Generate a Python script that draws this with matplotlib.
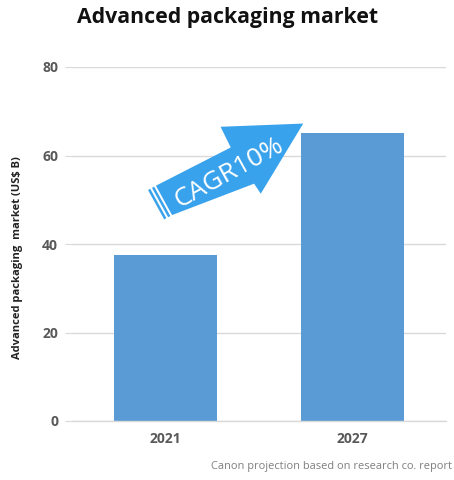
import numpy as np
import matplotlib
matplotlib.use("Agg")
import matplotlib.pyplot as plt
from matplotlib.patches import Polygon

years = ["2021", "2027"]
market = [37.5, 65.0]
yticks = [0, 20, 40, 60, 80]
title = "Advanced packaging market"
ylabel = "Advanced packaging  market (US$ B)"
cagr_label = "CAGR10%"
source = "Canon projection based on research co. report"

FONT = ["Open Sans", "DejaVu Sans"]
plt.rcParams["font.family"] = FONT

fig = plt.figure(figsize=(4.54, 4.80), dpi=100)
W, H = 454, 480
ax = fig.add_axes([72 / W, 1 - 421 / H, (446 - 72) / W, (421 - 67) / H])

x = np.arange(len(years))
ax.bar(x, market, width=0.556, color="#5b9bd5", zorder=2)
ax.set_xlim(-0.5, 1.5)
ax.set_ylim(0, 80)
ax.set_yticks(yticks)
ax.set_yticklabels([str(v) for v in yticks])
ax.set_xticks(x)
ax.set_xticklabels(years)
ax.grid(axis="y", color="#d9d9d9", linewidth=1.0, zorder=0)
for s in ["top", "right", "left"]:
    ax.spines[s].set_visible(False)
ax.spines["bottom"].set_color("#d9d9d9")
ax.spines["bottom"].set_linewidth(1.0)
ax.tick_params(axis="y", length=5, color="#d9d9d9", pad=5, labelsize=10, labelcolor="#595959")
ax.tick_params(axis="x", length=0, pad=8, labelsize=10, labelcolor="#595959")
for lab in ax.get_xticklabels() + ax.get_yticklabels():
    lab.set_fontweight("bold")

fig.text(18 / W, 1 - 258 / H, ylabel, rotation=90, ha="center", va="center",
         fontsize=8, fontweight="bold", color="#222222")
fig.text(228 / W, 1 - 18 / H, title, ha="center", va="center",
         fontsize=15.3, fontweight="bold", color="#111111")
fig.text(452 / W, 1 - 466 / H, source, ha="right", va="center",
         fontsize=7.9, color="#7f7f7f")

# CAGR arrow overlay in pixel coordinates
ov = fig.add_axes([0, 0, 1, 1])
ov.set_xlim(0, W)
ov.set_ylim(H, 0)
ov.axis("off")
ov.patch.set_alpha(0)

theta = np.deg2rad(28.8)
d = np.array([np.cos(theta), -np.sin(theta)])
p = np.array([-np.sin(theta), -np.cos(theta)])
T = np.array([156.0, 204.5])
acol = "#39a2ec"

def P(u, v):
    return T + u * d + v * p

shape = [(9, 16.5), (93, 14), (94, 37), (168, 0), (97, -41), (96, -29), (9, -17)]
ov.add_patch(Polygon([P(u, v) for u, v in shape], closed=True, color=acol, lw=0, zorder=5))
for u0, u1 in [(0, 2.5), (4.5, 7.0)]:
    ov.add_patch(Polygon([P(u0, 16.5), P(u1, 16.5), P(u1, -17), P(u0, -17)],
                         closed=True, color=acol, lw=0, zorder=5))
c = P(79, -7)
ov.text(c[0], c[1], cagr_label, rotation=29, rotation_mode="anchor",
        ha="center", va="center", fontsize=19, color="white", zorder=6)

fig.savefig("out.png", dpi=100)
